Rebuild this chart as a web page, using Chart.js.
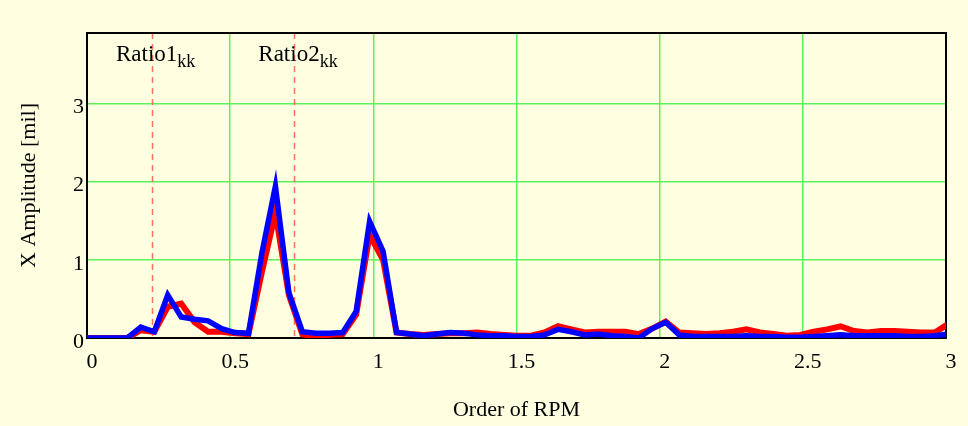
<!DOCTYPE html>
<html>
<head>
<meta charset="utf-8">
<script src="https://cdn.jsdelivr.net/npm/chart.js@4/dist/chart.umd.min.js"></script>
<style>
  html, body { margin: 0; padding: 0; background: #fefee0; }
  #wrap { width: 968px; height: 426px; }
</style>
</head>
<body>
<div id="wrap"><canvas id="ampChart" width="968" height="426"></canvas></div>
<script>
// Order of RPM (x positions of the spectrum samples)
const orders = [
  0, 0.047, 0.094, 0.141, 0.188, 0.235, 0.282, 0.329, 0.376, 0.423,
  0.470, 0.517, 0.564, 0.611, 0.658, 0.705, 0.752, 0.799, 0.846, 0.893,
  0.940, 0.987, 1.034, 1.081, 1.128, 1.175, 1.222, 1.269, 1.316, 1.363,
  1.410, 1.457, 1.504, 1.551, 1.598, 1.645, 1.692, 1.739, 1.786, 1.833,
  1.880, 1.927, 1.974, 2.021, 2.068, 2.115, 2.162, 2.209, 2.256, 2.303,
  2.350, 2.397, 2.444, 2.491, 2.538, 2.585, 2.632, 2.679, 2.726, 2.773,
  2.820, 2.867, 2.914, 2.961, 3.008
];

// X amplitude [mil], red trace
const ampRed = [
  0, 0, 0, 0, 0.10, 0.08, 0.40, 0.44, 0.20, 0.08,
  0.08, 0.06, 0.05, 0.85, 1.60, 0.55, 0.05, 0.01, 0.04, 0.05,
  0.30, 1.32, 1.00, 0.07, 0.05, 0.04, 0.05, 0.06, 0.06, 0.07,
  0.05, 0.04, 0.03, 0.03, 0.07, 0.15, 0.11, 0.07, 0.08, 0.08,
  0.08, 0.05, 0.12, 0.21, 0.07, 0.06, 0.05, 0.06, 0.08, 0.11,
  0.07, 0.05, 0.03, 0.04, 0.08, 0.11, 0.15, 0.09, 0.07, 0.09,
  0.09, 0.08, 0.07, 0.07, 0.18
];

// X amplitude [mil], blue trace
const ampBlue = [
  0, 0, 0, 0, 0.14, 0.08, 0.55, 0.27, 0.24, 0.22,
  0.12, 0.07, 0.06, 1.09, 1.94, 0.58, 0.08, 0.06, 0.06, 0.07,
  0.34, 1.49, 1.11, 0.07, 0.05, 0.03, 0.05, 0.07, 0.06, 0.04,
  0.03, 0.03, 0.02, 0.02, 0.04, 0.11, 0.08, 0.04, 0.05, 0.03,
  0.02, 0.00, 0.12, 0.20, 0.04, 0.02, 0.02, 0.02, 0.02, 0.03,
  0.02, 0.02, 0.01, 0.01, 0.02, 0.03, 0.04, 0.03, 0.03, 0.03,
  0.03, 0.02, 0.02, 0.03, 0.05
];

const xTicks = [0, 0.5, 1, 1.5, 2, 2.5, 3];
const yTicks = [0, 1, 2, 3];

// marker lines
const ratioNames = ['Ratio1', 'Ratio2'];
const ratioValues = [0.227, 0.724];

const FONT = "'Liberation Serif', 'Times New Roman', serif";
const GRID_GREEN = '#5ff25f';

function toPoints(xs, ys) {
  return xs.map((x, i) => ({ x: x, y: ys[i] }));
}

// frame + ratio markers
const framePlugin = {
  id: 'frame',
  beforeDatasetsDraw(chart) {
    const { ctx, chartArea: a, scales } = chart;
    ctx.save();
    // dashed ratio lines
    ctx.strokeStyle = 'rgba(255, 80, 60, 0.8)';
    ctx.lineWidth = 1.5;
    ctx.setLineDash([6, 5]);
    ratioValues.forEach(v => {
      const px = Math.round(scales.x.getPixelForValue(v)) + 0.5;
      ctx.beginPath();
      ctx.moveTo(px, a.top);
      ctx.lineTo(px, a.bottom);
      ctx.stroke();
    });
    ctx.setLineDash([]);
    // black border
    ctx.strokeStyle = '#000';
    ctx.lineWidth = 2;
    ctx.strokeRect(a.left, a.top, a.right - a.left, a.bottom - a.top);
    ctx.restore();
  },
  afterDraw(chart) {
    const { ctx, scales } = chart;
    ctx.save();
    ctx.fillStyle = '#000';
    ctx.textBaseline = 'alphabetic';
    ctx.textAlign = 'left';
    ratioValues.forEach((v, i) => {
      const px = scales.x.getPixelForValue(v);
      const x0 = px - 36;
      ctx.font = '23px ' + FONT;
      ctx.fillText(ratioNames[i], x0, 61);
      const w = ctx.measureText(ratioNames[i]).width;
      ctx.font = '18px ' + FONT;
      ctx.fillText('kk', x0 + w, 67);
    });
    ctx.restore();
  }
};

new Chart(document.getElementById('ampChart'), {
  type: 'line',
  data: {
    datasets: [
      {
        label: 'red',
        data: toPoints(orders, ampRed),
        borderColor: '#ff0000',
        borderWidth: 6,
        pointRadius: 0,
        tension: 0,
        order: 1
      },
      {
        label: 'blue',
        data: toPoints(orders, ampBlue),
        borderColor: '#0000ff',
        borderWidth: 5.5,
        pointRadius: 0,
        tension: 0,
        order: 0
      }
    ]
  },
  options: {
    responsive: false,
    animation: false,
    layout: { padding: { top: 33, right: 22, left: 0, bottom: 0 } },
    plugins: {
      legend: { display: false },
      tooltip: { enabled: false }
    },
    scales: {
      x: {
        type: 'linear',
        min: 0,
        max: 3,
        afterBuildTicks: s => { s.ticks = xTicks.map(v => ({ value: v })); },
        afterFit: s => { s.height = 88; },
        border: { display: false },
        grid: {
          drawTicks: false,
          lineWidth: 1.5,
          color: c => (c.tick && (c.tick.value === 0 || c.tick.value === 3)) ? 'rgba(0,0,0,0)' : GRID_GREEN
        },
        ticks: {
          color: '#000',
          font: { family: FONT, size: 22 },
          padding: 11,
          labelOffset: 5,
          maxRotation: 0,
          autoSkip: false,
          callback: v => String(v)
        },
        title: {
          display: true,
          text: 'Order of RPM',
          color: '#000',
          font: { family: FONT, size: 22 },
          padding: { top: 0, bottom: 3 }
        }
      },
      y: {
        min: 0,
        max: 3.9,
        afterBuildTicks: s => { s.ticks = yTicks.map(v => ({ value: v })); },
        afterFit: s => { s.width = 87; },
        border: { display: false },
        grid: {
          drawTicks: false,
          lineWidth: 1.5,
          color: c => (c.tick && c.tick.value === 0) ? 'rgba(0,0,0,0)' : GRID_GREEN
        },
        ticks: {
          color: '#000',
          font: { family: FONT, size: 22 },
          padding: 3,
          labelOffset: 4,
          autoSkip: false,
          callback: v => String(v)
        },
        title: {
          display: true,
          text: 'X Amplitude [mil]',
          color: '#000',
          font: { family: FONT, size: 22 },
          padding: { top: 16, bottom: 0 }
        }
      }
    }
  },
  plugins: [framePlugin]
});
</script>
</body>
</html>
